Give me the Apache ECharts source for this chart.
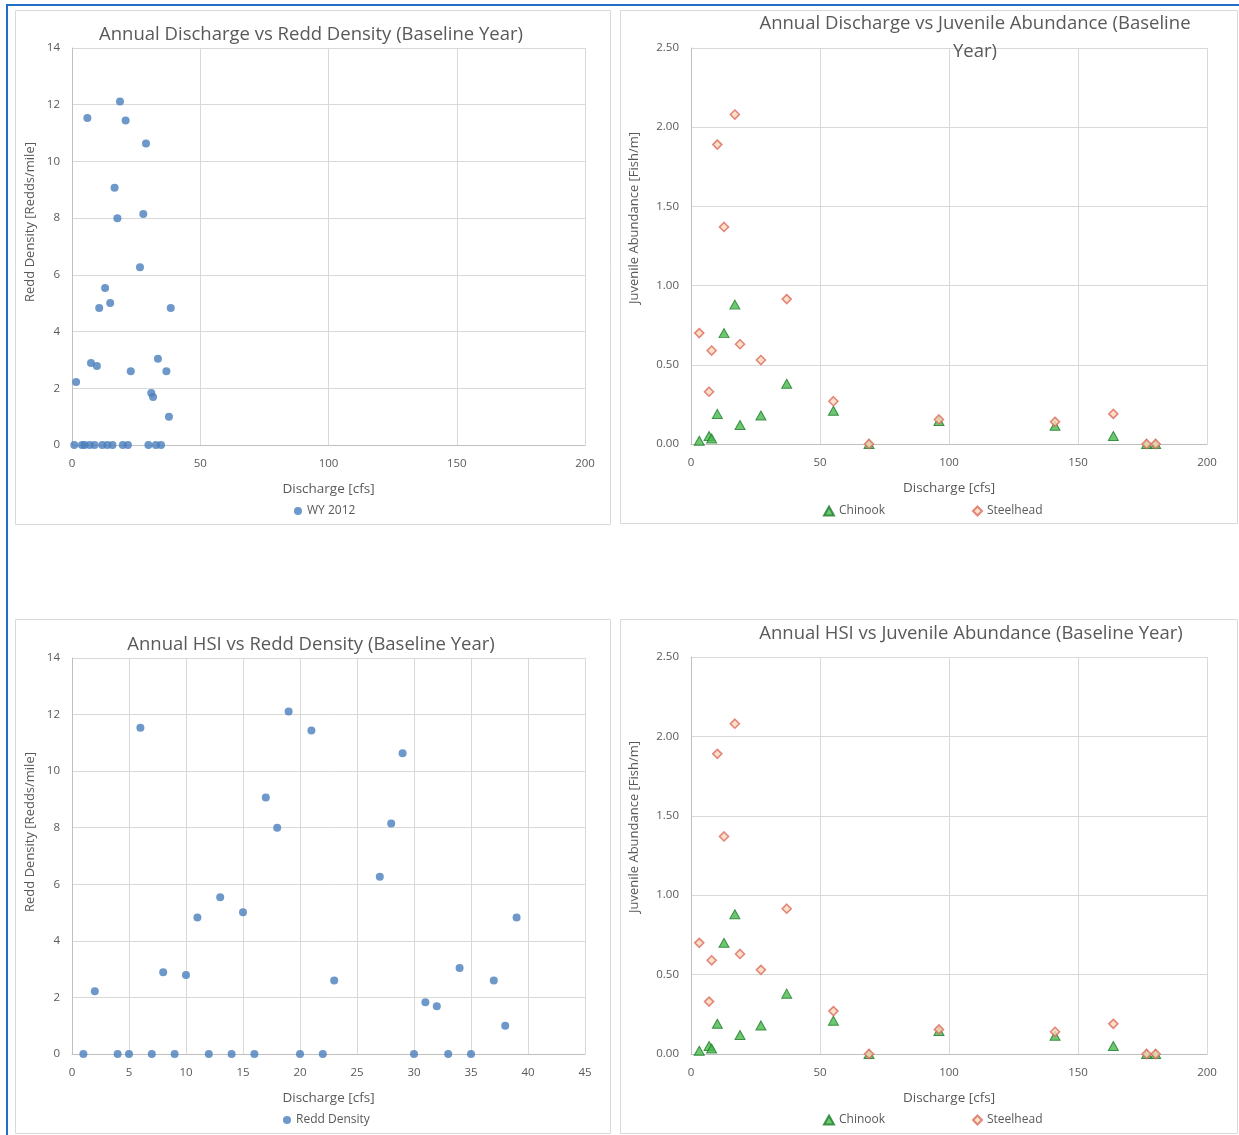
<!DOCTYPE html>
<html>
<head>
<meta charset="utf-8">
<title>Baseline Year: Discharge, HSI, Redds and Juveniles</title>
<script src="https://cdn.jsdelivr.net/npm/echarts@6/dist/echarts.min.js"></script>
<style>
  html, body { margin: 0; padding: 0; background: #ffffff; }
  #chart { width: 1239px; height: 1135px; }
</style>
</head>
<body>
<div id="chart"></div>
<script>
// ---- Redd survey, WY 2012 (one entry per reach) ----
const reddHsi = [1, 2, 4, 5, 6, 7, 8, 9, 10, 11, 12, 13, 14, 15, 16, 17, 18, 19, 20, 21, 22, 23,
                 27, 28, 29, 30, 31, 32, 33, 34, 35, 37, 38, 39];
const reddDischarge = [0.9, 1.6, 3.9, 4.9, 6.0, 6.9, 7.4, 8.8, 9.7, 10.6, 11.8, 12.9, 13.8, 14.9, 15.8,
                       16.6, 17.7, 18.7, 19.8, 20.9, 21.8, 22.9, 26.5, 27.8, 28.85, 29.8, 30.9, 31.6,
                       32.7, 33.5, 34.7, 36.8, 37.8, 38.5];
const reddDensity = [0, 2.22, 0, 0, 11.53, 0, 2.89, 0, 2.79, 4.83, 0, 5.54, 0, 5.01, 0,
                     9.07, 8.0, 12.11, 0, 11.44, 0, 2.6, 6.27, 8.15, 10.63, 0, 1.83, 1.69,
                     0, 3.04, 0, 2.6, 1.0, 4.83];

// ---- Juvenile abundance by site discharge ----
const juvDischarge = [3.2, 7.0, 8.0, 10.2, 12.8, 17.0, 19.0, 27.1, 37.1, 55.2, 69.0, 96.1, 141.1, 163.7, 176.6, 180.1];
const chinook   = [0.02, 0.05, 0.035, 0.19, 0.70, 0.88, 0.12, 0.18, 0.38, 0.21, 0.0, 0.145, 0.115, 0.05, 0.0, 0.0];
const steelhead = [0.70, 0.33, 0.59, 1.89, 1.37, 2.08, 0.63, 0.53, 0.915, 0.27, 0.0, 0.155, 0.14, 0.19, 0.0, 0.0];

// ---- Panel text ----
const panelTitles = [
  'Annual Discharge vs Redd Density (Baseline Year)',
  'Annual Discharge vs Juvenile Abundance (Baseline\nYear)',
  'Annual HSI vs Redd Density (Baseline Year)',
  'Annual HSI vs Juvenile Abundance (Baseline Year)'
];
const xName = 'Discharge [cfs]';
const reddAxisName = 'Redd Density [Redds/mile]';
const juvAxisName = 'Juvenile Abundance [Fish/m]';

const zip = (xs, ys) => xs.map((x, i) => [x, ys[i]]);

const FONT = '"Open Sans", "Liberation Sans", sans-serif';
const TXT = '#595959';
const GRID = '#d9d9d9';
const AXIS = '#bfbfbf';
const BLUE = '#4a7ebb';

function valueAxis(gridIndex, min, max, interval, name, nameGap, isY, decimals) {
  return {
    type: 'value', gridIndex, min, max, interval,
    name, nameLocation: 'middle', nameGap,
    nameTextStyle: { color: TXT, fontFamily: FONT, fontSize: 13.5 },
    axisLine: { show: true, lineStyle: { color: AXIS, width: 1 } },
    axisTick: { show: false },
    axisLabel: {
      color: TXT, fontFamily: FONT, fontSize: 11.5, margin: isY ? 12 : 13,
      formatter: v => decimals ? v.toFixed(decimals) : String(v)
    },
    splitLine: { show: true, lineStyle: { color: GRID, width: 1 } }
  };
}

const chart = echarts.init(document.getElementById('chart'), null, { renderer: 'canvas' });

const grids = [
  { left: 72,  top: 48,  width: 513, height: 397 },
  { left: 691, top: 48,  width: 516, height: 396 },
  { left: 72,  top: 658, width: 513, height: 396 },
  { left: 691, top: 657, width: 516, height: 397 }
];

const circleStyle = { color: BLUE };
const chinookStyle = { color: '#47b94a', borderColor: '#1c7a2a', borderWidth: 1 };
const steelStyle = { color: '#fbd9bd', borderColor: '#dc6a5c', borderWidth: 1.6 };

function juvSeries(idx) {
  return [
    { name: 'Chinook', type: 'scatter', xAxisIndex: idx, yAxisIndex: idx,
      symbol: 'triangle', symbolSize: [10, 9], itemStyle: chinookStyle,
      data: zip(juvDischarge, chinook), z: 3 },
    { name: 'Steelhead', type: 'scatter', xAxisIndex: idx, yAxisIndex: idx,
      symbol: 'diamond', symbolSize: 9, itemStyle: steelStyle,
      data: zip(juvDischarge, steelhead), z: 4 }
  ];
}

const panelBoxes = [
  { x: 15.5,  y: 10.5,  w: 595, h: 514 },
  { x: 620.5, y: 10.5,  w: 617, h: 513 },
  { x: 15.5,  y: 619.5, w: 595, h: 514 },
  { x: 620.5, y: 619.5, w: 617, h: 514 }
];

// title anchor: horizontal centre and top of first line
const titlePos = [
  { x: 311, y: 21 },
  { x: 975, y: 10 },
  { x: 311, y: 631 },
  { x: 971, y: 620 }
];

// rotated value-axis titles: centre point
const yTitlePos = [
  { x: 30,  y: 222, text: reddAxisName },
  { x: 634, y: 218, text: juvAxisName },
  { x: 30,  y: 832, text: reddAxisName },
  { x: 634, y: 827, text: juvAxisName }
];

const graphics = [];
panelBoxes.forEach(b => graphics.push({
  type: 'rect', z: -10, silent: true,
  shape: { x: b.x, y: b.y, width: b.w, height: b.h },
  style: { fill: '#ffffff', stroke: '#d9d9d9', lineWidth: 1 }
}));
// frame lines along the top and left of the sheet
graphics.push({ type: 'line', z: 10, silent: true, shape: { x1: 7, y1: 5, x2: 1239, y2: 5 },
  style: { stroke: '#1f6fc4', lineWidth: 2 } });
graphics.push({ type: 'line', z: 10, silent: true, shape: { x1: 7, y1: 4, x2: 7, y2: 1135 },
  style: { stroke: '#1f6fc4', lineWidth: 2 } });
panelTitles.forEach((t, i) => graphics.push({
  type: 'text', z: 20, silent: true, x: titlePos[i].x, y: titlePos[i].y,
  style: { text: t, align: 'center', verticalAlign: 'top', fill: TXT,
           fontFamily: FONT, fontSize: 18.5, lineHeight: 28 }
}));
yTitlePos.forEach(p => graphics.push({
  type: 'text', z: 20, silent: true, x: p.x, y: p.y, rotation: Math.PI / 2,
  style: { text: p.text, align: 'center', verticalAlign: 'middle', fill: TXT,
           fontFamily: FONT, fontSize: 13 }
}));

const legendText = { color: TXT, fontFamily: FONT, fontSize: 12 };

const option = {
  backgroundColor: '#ffffff',
  animation: false,
  grid: grids,
  xAxis: [
    valueAxis(0, 0, 200, 50, xName, 37, false, 0),
    valueAxis(1, 0, 200, 50, xName, 37, false, 0),
    valueAxis(2, 0, 45, 5, xName, 37, false, 0),
    valueAxis(3, 0, 200, 50, xName, 37, false, 0)
  ],
  yAxis: [
    valueAxis(0, 0, 14, 2, '', 0, true, 0),
    valueAxis(1, 0, 2.5, 0.5, '', 0, true, 2),
    valueAxis(2, 0, 14, 2, '', 0, true, 0),
    valueAxis(3, 0, 2.5, 0.5, '', 0, true, 2)
  ],
  legend: [
    { data: ['WY 2012'], left: 289, top: 500, itemWidth: 8, itemHeight: 8, textStyle: legendText },
    { data: ['Chinook'], left: 818, top: 500, itemWidth: 10, itemHeight: 9, textStyle: legendText },
    { data: ['Steelhead'], left: 967, top: 500, itemWidth: 9, itemHeight: 9, textStyle: legendText },
    { data: ['Redd Density'], left: 278, top: 1109, itemWidth: 8, itemHeight: 8, textStyle: legendText },
    { data: [{ name: 'Chinook' }], left: 818, top: 1109, itemWidth: 10, itemHeight: 9, textStyle: legendText },
    { data: [{ name: 'Steelhead' }], left: 967, top: 1109, itemWidth: 9, itemHeight: 9, textStyle: legendText }
  ],
  series: [
    { name: 'WY 2012', type: 'scatter', xAxisIndex: 0, yAxisIndex: 0, symbol: 'circle',
      symbolSize: 8, itemStyle: circleStyle, data: zip(reddDischarge, reddDensity) },
    ...juvSeries(1),
    { name: 'Redd Density', type: 'scatter', xAxisIndex: 2, yAxisIndex: 2, symbol: 'circle',
      symbolSize: 8, itemStyle: circleStyle, data: zip(reddHsi, reddDensity) },
    ...juvSeries(3)
  ],
  graphic: graphics
};

chart.setOption(option);
</script>
</body>
</html>
